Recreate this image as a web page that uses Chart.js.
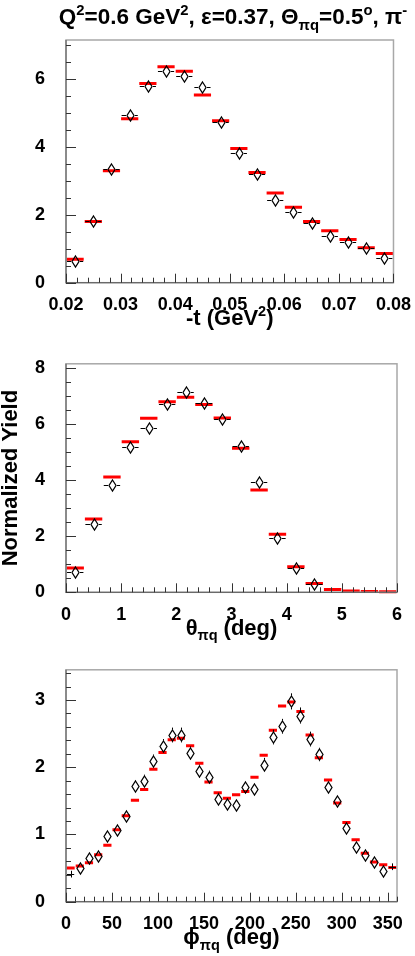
<!DOCTYPE html>
<html><head><meta charset="utf-8">
<script src="https://cdn.jsdelivr.net/npm/chart.js@4.4.1/dist/chart.umd.min.js"></script>
<style>
html,body{margin:0;padding:0;background:#fff;}
body{width:415px;height:956px;position:relative;overflow:hidden;}
canvas{position:absolute;left:0;}
</style></head><body>
<canvas id="k1" style="top:0px"></canvas>
<canvas id="k2" style="top:340px"></canvas>
<canvas id="k3" style="top:646px"></canvas>
<script>
// ---------- DATA ----------
const tCenters = [0.02167,0.02500,0.02833,0.03167,0.03500,0.03833,0.04167,0.04500,0.04833,0.05167,0.05500,0.05833,0.06167,0.06500,0.06833,0.07167,0.07500,0.07833];
const tBinWidth = 0.003333;
const tModel = [0.69,1.80,3.30,4.83,5.87,6.36,6.23,5.53,4.77,3.95,3.25,2.64,2.22,1.80,1.53,1.27,1.03,0.86];
const tData  = [0.63,1.82,3.35,4.94,5.79,6.24,6.08,5.78,4.72,3.81,3.19,2.45,2.09,1.75,1.38,1.19,1.02,0.73];
const tErr   = [0.04,0.05,0.06,0.07,0.09,0.09,0.09,0.09,0.08,0.07,0.06,0.06,0.05,0.05,0.05,0.04,0.04,0.04];

const thCenters = [0.167,0.500,0.833,1.167,1.500,1.833,2.167,2.500,2.833,3.167,3.500,3.833,4.167,4.500,4.833,5.167,5.500,5.833];
const thBinWidth = 0.3333;
const thModel = [0.87,2.61,4.11,5.37,6.21,6.80,6.96,6.70,6.22,5.14,3.65,2.07,0.91,0.31,0.10,0.05,0.03,0.02];
const thData  = [0.73,2.45,3.83,5.18,5.87,6.72,7.15,6.76,6.17,5.22,3.94,1.92,0.87,0.28,null,null,null,null];
const thErr   = [0.05,0.07,0.09,0.10,0.11,0.12,0.12,0.12,0.11,0.10,0.09,0.07,0.05,0.03,0,0,0,0];

const phiCenters = [5,15,25,35,45,55,65,75,85,95,105,115,125,135,145,155,165,175,185,195,205,215,225,235,245,255,265,275,285,295,305,315,325,335,345,355];
const phiBinWidth = 10;
const phiModel = [0.50,0.53,0.58,0.70,0.84,1.07,1.28,1.51,1.67,1.97,2.22,2.41,2.43,2.32,2.06,1.78,1.62,1.54,1.59,1.64,1.85,2.18,2.55,2.91,2.97,2.83,2.48,2.14,1.81,1.47,1.18,0.92,0.72,0.59,0.55,0.51];
const phiData  = [0.41,0.50,0.65,0.68,0.98,1.07,1.28,1.72,1.80,2.09,2.32,2.48,2.48,2.21,1.94,1.86,1.53,1.46,1.44,1.70,1.67,2.04,2.45,2.61,2.98,2.77,2.42,2.19,1.70,1.50,1.10,0.82,0.69,0.59,0.46,0.52];
const phiErr   = [0.05,0.05,0.06,0.06,0.07,0.07,0.08,0.09,0.09,0.10,0.10,0.11,0.11,0.10,0.10,0.09,0.09,0.08,0.08,0.09,0.09,0.10,0.11,0.11,0.12,0.12,0.11,0.10,0.09,0.08,0.07,0.06,0.06,0.05,0.05,0.05];
const phiHideMarker = [true,false,false,false,false,false,false,false,false,false,false,false,false,false,false,false,false,false,false,false,false,false,false,false,false,false,false,false,false,false,false,false,false,false,false,true];

const titleParts = [["Q",0],["2",1],["=0.6 GeV",0],["2",1],[", \u03b5=0.37, \u0398",0],["\u03c0q",-1],["=0.5",0],["o",1],[", \u03c0",0],["-",1]];
const xTitle1 = [["-t (GeV",0],["2",1],[")",0]];
const xTitle2 = [["\u03b8",0],["\u03c0q",-1],[" (deg)",0]];
const xTitle3 = [["\u03d5",0],["\u03c0q",-1],[" (deg)",0]];
const yTitle = "Normalized Yield";

// ---------- STYLE / HELPERS ----------
const FONT = "'Liberation Sans', Arial, Helvetica, sans-serif";

function drawRich(ctx, parts, cx, base, size){
  const sub = size*0.66;
  let total = 0;
  const ws = parts.map(([t,m])=>{ ctx.font = `bold ${m? sub: size}px ${FONT}`; const w = ctx.measureText(t).width; total += w; return w; });
  let x = cx - total/2;
  ctx.fillStyle = '#000'; ctx.textBaseline = 'alphabetic'; ctx.textAlign = 'left';
  parts.forEach(([t,m],i)=>{
    ctx.font = `bold ${m? sub: size}px ${FONT}`;
    const dy = m===1 ? -size*0.42 : (m===-1 ? size*0.26 : 0);
    ctx.fillText(t, x, base + dy);
    x += ws[i];
  });
}

const histPlugin = {
  id: 'hist',
  beforeDatasetsDraw(chart){
    const ctx = chart.ctx, xs = chart.scales.x, ys = chart.scales.y;
    const ds = chart.data.datasets[0];
    ctx.save();
    ctx.beginPath(); ctx.rect(chart.chartArea.left, chart.chartArea.top, chart.chartArea.width, chart.chartArea.height+2); ctx.clip();
    ctx.strokeStyle = '#ff0000'; ctx.lineWidth = 3; ctx.lineCap = 'butt';
    ds.data.forEach(p=>{
      const x0 = xs.getPixelForValue(p.x - ds.binWidth/2), x1 = xs.getPixelForValue(p.x + ds.binWidth/2);
      const y = ys.getPixelForValue(p.y);
      ctx.beginPath(); ctx.moveTo(x0+0.5,y); ctx.lineTo(x1-0.5,y); ctx.stroke();
    });
    ctx.restore();
  },
  afterDatasetsDraw(chart){
    const ctx = chart.ctx, xs = chart.scales.x, ys = chart.scales.y;
    const ds = chart.data.datasets[1];
    const meta = chart.getDatasetMeta(1);
    ctx.save();
    ctx.strokeStyle = '#000'; ctx.lineWidth = 1;
    ds.data.forEach((p,i)=>{
      if (p.y === null) return;
      const hidden = ds.hide && ds.hide[i];
      const gx = hidden ? 0 : 4.5, gy = hidden ? 0 : 6;
      const el = meta.data[i];
      const x = el.x, y = el.y;
      const x0 = xs.getPixelForValue(p.x - ds.binWidth/2), x1 = xs.getPixelForValue(p.x + ds.binWidth/2);
      const cx = Math.round(x)+0.5, cy = Math.round(y)+0.5;
      ctx.beginPath();
      if (cx - gx > x0 + 1){ ctx.moveTo(x0+1, cy); ctx.lineTo(cx-gx, cy); }
      if (cx + gx < x1 - 1){ ctx.moveTo(cx+gx, cy); ctx.lineTo(x1-1, cy); }
      const yt = ys.getPixelForValue(p.y + ds.err[i]), yb = ys.getPixelForValue(p.y - ds.err[i]);
      if (yt < cy - gy){ ctx.moveTo(cx, cy-gy); ctx.lineTo(cx, yt); }
      if (yb > cy + gy){ ctx.moveTo(cx, cy+gy); ctx.lineTo(cx, yb); }
      ctx.stroke();
      if (!hidden){
        ctx.lineWidth = 1.25;
        ctx.beginPath();
        ctx.moveTo(cx, cy-5.5); ctx.lineTo(cx+3.5, cy); ctx.lineTo(cx, cy+5.5); ctx.lineTo(cx-3.5, cy); ctx.closePath();
        ctx.stroke();
        ctx.lineWidth = 1;
      }
    });
    ctx.restore();
  },
  afterDraw(chart){
    const ctx = chart.ctx, a = chart.chartArea, xs = chart.scales.x, ys = chart.scales.y;
    const o = chart.options.plugins.frame;
    ctx.save();
    // frame
    ctx.strokeStyle = '#a8a8a8'; ctx.lineWidth = 1.5;
    ctx.strokeRect(a.left, a.top, a.right - a.left, a.bottom - a.top);
    ctx.strokeStyle = '#6a6a6a'; ctx.lineWidth = 1.2;
    ctx.beginPath(); ctx.moveTo(a.left, a.top); ctx.lineTo(a.left, a.bottom); ctx.lineTo(a.right, a.bottom); ctx.stroke();
    // ticks
    ctx.strokeStyle = '#333'; ctx.lineWidth = 1;
    ctx.beginPath();
    for (let k = 0; ; k++){
      const v = xs.min + k*o.xMinor;
      if (v > xs.max + 1e-9*Math.max(1,Math.abs(xs.max))) break;
      const r = Math.abs((v - xs.min)/o.xMajor - Math.round((v - xs.min)/o.xMajor)) < 1e-6;
      const px = Math.round(xs.getPixelForValue(v)) + 0.5;
      ctx.moveTo(px, a.bottom); ctx.lineTo(px, a.bottom - (r ? 9 : 5));
    }
    for (let k = 0; ; k++){
      const v = ys.min + k*o.yMinor;
      if (v > ys.max + 1e-9) break;
      const r = Math.abs(v/o.yMajor - Math.round(v/o.yMajor)) < 1e-6;
      const py = Math.round(ys.getPixelForValue(v)) + 0.5;
      ctx.moveTo(a.left, py); ctx.lineTo(a.left + (r ? 10 : 5), py);
    }
    ctx.stroke();
    // texts
    if (o.title) drawRich(ctx, o.title, o.titleX, o.titleY, 22.5);
    drawRich(ctx, o.xTitle, (a.left + a.right)/2, o.xTitleY, 22);
    if (o.yTitle){
      ctx.save();
      ctx.translate(o.yTitleX, (a.top + a.bottom)/2);
      ctx.rotate(-Math.PI/2);
      ctx.font = `bold 22px ${FONT}`; ctx.fillStyle = '#000'; ctx.textAlign = 'center'; ctx.textBaseline = 'alphabetic';
      ctx.fillText(o.yTitle, 0, 0);
      ctx.restore();
    }
    ctx.restore();
  }
};

function makeChart(id, H, top, bottom, centers, bw, model, data, err, hide, xr, yr, frame){
  const cv = document.getElementById(id);
  cv.width = 415; cv.height = H; cv.style.width = '415px'; cv.style.height = H + 'px';
  return new Chart(cv, {
    type: 'scatter',
    data: { datasets: [
      { label: 'model', data: centers.map((c,i)=>({x:c, y:model[i]})), binWidth: bw, pointRadius: 0, showLine: false },
      { label: 'data', data: centers.map((c,i)=>({x:c, y:data[i]})), binWidth: bw, err: err, hide: hide,
        pointRadius: 0, showLine: false }
    ]},
    options: {
      responsive: false, animation: false, devicePixelRatio: 1,
      layout: { padding: { top: top, right: 18, left: 0, bottom: 0 } },
      plugins: { legend: {display:false}, tooltip: {enabled:false}, title:{display:false}, frame: frame },
      scales: {
        x: { type: 'linear', min: xr.min, max: xr.max,
             grid: {display:false}, border: {display:false},
             afterFit: s => { s.height = H - bottom; },
             ticks: { stepSize: xr.step, includeBounds: false, padding: 4, color:'#000', maxRotation:0, autoSkip:false,
                      font: { family: FONT, weight: 'bold', size: 18 },
                      callback: v => xr.fmt(v) } },
        y: { type: 'linear', min: 0, max: yr.max,
             grid: {display:false}, border: {display:false},
             afterFit: s => { s.width = 66; },
             ticks: { stepSize: yr.step, includeBounds: false, padding: 13, color:'#000',
                      font: { family: FONT, weight: 'bold', size: 18 },
                      callback: v => String(Math.round(v)) } }
      }
    },
    plugins: [histPlugin]
  });
}

makeChart('k1', 340, 40, 282.7, tCenters, tBinWidth, tModel, tData, tErr, null,
  {min:0.02, max:0.08, step:0.01, fmt: v => v.toFixed(2)}, {max:7.15, step:2},
  {xMinor:0.002, xMajor:0.01, yMinor:0.5, yMajor:2, title: titleParts, titleX: 233, titleY: 24, xTitle: xTitle1, xTitleY: 325});

makeChart('k2', 306, 9, 252.3, thCenters, thBinWidth, thModel, thData, thErr, null,
  {min:0, max:6, step:1, fmt: v => String(Math.round(v))}, {max:8.15, step:2},
  {xMinor:0.2, xMajor:1, yMinor:0.5, yMajor:2, xTitle: xTitle2, xTitleY: 294.5, yTitle: yTitle, yTitleX: 17});

makeChart('k3', 310, 12.3, 255.7, phiCenters, phiBinWidth, phiModel, phiData, phiErr, phiHideMarker,
  {min:0, max:360, step:50, fmt: v => String(Math.round(v))}, {max:3.45, step:1},
  {xMinor:10, xMajor:50, yMinor:0.2, yMajor:1, xTitle: xTitle3, xTitleY: 298});
</script>
</body></html>
